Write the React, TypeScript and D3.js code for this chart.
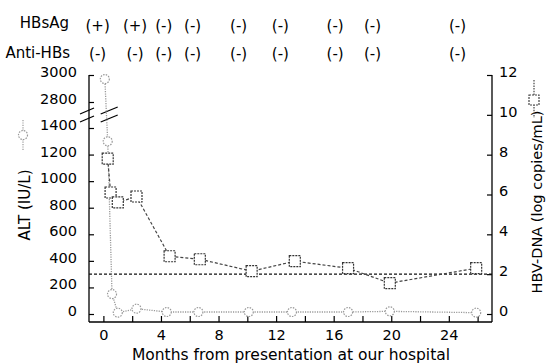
import React, { useEffect, useRef } from "react";
import * as d3 from "d3";

// ALT (IU/L), dotted grey line with round markers
const altMonths = [0.1, 0.3, 0.6, 1.0, 2.3, 4.4, 6.6, 10.1, 13.1, 17.0, 19.9, 25.9];
const altValues = [2970, 1300, 150, 10, 40, 15, 15, 15, 15, 15, 20, 10];

// HBV-DNA (log copies/mL), dashed line with square markers
const dnaMonths = [0.3, 0.5, 1.0, 2.3, 4.6, 6.7, 10.3, 13.3, 17.0, 19.9, 25.9];
const dnaValues = [7.8, 6.1, 5.6, 5.9, 2.9, 2.75, 2.15, 2.65, 2.3, 1.55, 2.3];
const dnaLimit = 2;

// serology rows above the plot
const seroMonths = [-0.4, 2.2, 4.2, 6.2, 9.4, 12.3, 16.1, 18.7, 24.6];
const hbsAg = ["(+)", "(+)", "(-)", "(-)", "(-)", "(-)", "(-)", "(-)", "(-)"];
const antiHbs = ["(-)", "(-)", "(-)", "(-)", "(-)", "(-)", "(-)", "(-)", "(-)"];

const altTicks = [0, 200, 400, 600, 800, 1000, 1200, 1400, 2800, 3000];
const dnaTicks = [0, 2, 4, 6, 8, 10, 12];
const monthTicks = [0, 2, 4, 6, 8, 10, 12, 14, 16, 18, 20, 22, 24, 26];
const monthLabels = [0, 4, 8, 12, 16, 20, 24];

const FONT = "DejaVu Sans, Verdana, sans-serif";

const App: React.FC = () => {
  const svgRef = useRef<SVGSVGElement | null>(null);

  useEffect(() => {
    const svg = d3.select(svgRef.current);
    svg.selectAll("*").remove();

    const w = 546;
    const h = 364;
    const left = 89;
    const right = 492;
    const axisY = 322;
    const top = 75;

    svg.attr("width", w).attr("height", h).style("background", "#fff")
      .style("font-family", FONT);

    const x = d3.scaleLinear().domain([-1, 27]).range([left, right]);
    // broken axis: 1400 -> 2800 squeezed
    const yL = d3.scaleLinear().domain([0, 1400, 2800, 3000]).range([314, 128, 102, top]);
    const yR = d3.scaleLinear().domain([0, 12]).range([314, top]);

    // axes
    const gL = svg.append("g").attr("transform", `translate(${left},0)`)
      .call(d3.axisLeft(yL).tickValues(altTicks).tickSize(-5).tickPadding(12).tickFormat(d3.format("d")));
    const gR = svg.append("g").attr("transform", `translate(${right},0)`)
      .call(d3.axisRight(yR).tickValues(dnaTicks).tickSize(-5).tickPadding(7));
    const gB = svg.append("g").attr("transform", `translate(0,${axisY})`)
      .call(d3.axisBottom(x).tickValues(monthTicks).tickSize(-6).tickPadding(8)
        .tickFormat(d => (monthLabels.includes(+d) ? String(d) : "")));

    [gL, gR, gB].forEach(g => {
      g.select(".domain").remove();
      g.selectAll("line").attr("stroke", "#000").attr("stroke-width", 1.2);
      g.selectAll("text").style("font-size", "14.5px").style("font-family", FONT).attr("fill", "#000");
    });
    gL.selectAll("text").attr("dy", "0.1em");
    gR.selectAll("text").attr("dy", "0.1em");

    svg.append("line").attr("x1", left).attr("x2", left).attr("y1", top).attr("y2", axisY)
      .attr("stroke", "#000").attr("stroke-width", 1.3);
    svg.append("line").attr("x1", right).attr("x2", right).attr("y1", top).attr("y2", axisY)
      .attr("stroke", "#000").attr("stroke-width", 1.3);
    svg.append("line").attr("x1", left).attr("x2", right).attr("y1", axisY).attr("y2", axisY)
      .attr("stroke", "#000").attr("stroke-width", 1.3);

    // axis break marks
    const breakY = (yL(1400) + yL(2800)) / 2;
    [-4, 4].forEach(off => {
      svg.append("line").attr("x1", left - 9).attr("x2", left + 5)
        .attr("y1", breakY + off + 3).attr("y2", breakY + off - 3)
        .attr("stroke", "#000").attr("stroke-width", 1.3);
      svg.append("line").attr("x1", x(0.3) - 7).attr("x2", x(0.3) + 10)
        .attr("y1", breakY + off + 3).attr("y2", breakY + off - 4)
        .attr("stroke", "#000").attr("stroke-width", 1.3);
    });

    // detection limit line
    svg.append("line").attr("x1", left).attr("x2", right)
      .attr("y1", yR(dnaLimit)).attr("y2", yR(dnaLimit))
      .attr("stroke", "#111").attr("stroke-width", 1.2).attr("stroke-dasharray", "3,2");

    // ALT series
    const altData = altMonths.map((m, i) => ({ m, v: altValues[i] }));
    svg.append("path").datum(altData)
      .attr("fill", "none").attr("stroke", "#999").attr("stroke-width", 1.3)
      .attr("stroke-dasharray", "1.2,1.2")
      .attr("d", d3.line<{ m: number; v: number }>().x(d => x(d.m)).y(d => yL(d.v)));
    svg.selectAll(".alt-pt").data(altData).enter().append("circle")
      .attr("cx", d => x(d.m)).attr("cy", d => yL(d.v)).attr("r", 4.5)
      .attr("fill", "#fff").attr("stroke", "#999").attr("stroke-width", 1.2)
      .attr("stroke-dasharray", "1.5,1.2");

    // HBV-DNA series
    const dnaData = dnaMonths.map((m, i) => ({ m, v: dnaValues[i] }));
    svg.append("path").datum(dnaData)
      .attr("fill", "none").attr("stroke", "#444").attr("stroke-width", 1.2)
      .attr("stroke-dasharray", "3,2")
      .attr("d", d3.line<{ m: number; v: number }>().x(d => x(d.m)).y(d => yR(d.v)));
    svg.selectAll(".dna-pt").data(dnaData).enter().append("rect")
      .attr("x", d => x(d.m) - 5.5).attr("y", d => yR(d.v) - 5.5)
      .attr("width", 11).attr("height", 11)
      .attr("fill", "#fff").attr("stroke", "#333").attr("stroke-width", 1.2)
      .attr("stroke-dasharray", "2,1");

    // serology rows
    svg.append("text").attr("x", 69).attr("y", 28).attr("text-anchor", "end")
      .style("font-size", "15px").text("HBsAg");
    svg.append("text").attr("x", 70).attr("y", 58).attr("text-anchor", "end")
      .style("font-size", "15px").text("Anti-HBs");
    seroMonths.forEach((m, i) => {
      svg.append("text").attr("x", x(m)).attr("y", 31).attr("text-anchor", "middle")
        .style("font-size", "15px").text(hbsAg[i]);
      svg.append("text").attr("x", x(m)).attr("y", 59).attr("text-anchor", "middle")
        .style("font-size", "15px").text(antiHbs[i]);
    });

    // axis titles
    svg.append("text").attr("x", 291).attr("y", 359.5).attr("text-anchor", "middle")
      .style("font-size", "15.5px").text("Months from presentation at our hospital");
    svg.append("text").attr("transform", `translate(30,205) rotate(-90)`).attr("text-anchor", "middle")
      .style("font-size", "15px").text("ALT (IU/L)");
    svg.append("text").attr("transform", `translate(542,202) rotate(-90)`).attr("text-anchor", "middle")
      .style("font-size", "14.5px").text("HBV-DNA (log copies/mL)");

    // legend symbols next to the titles
    svg.append("line").attr("x1", 23).attr("x2", 23).attr("y1", 120).attr("y2", 150)
      .attr("stroke", "#999").attr("stroke-width", 1.2).attr("stroke-dasharray", "1.2,1.2");
    svg.append("circle").attr("cx", 23).attr("cy", 135).attr("r", 4.5)
      .attr("fill", "#fff").attr("stroke", "#999").attr("stroke-width", 1.2).attr("stroke-dasharray", "1.5,1.2");
    svg.append("line").attr("x1", 534).attr("x2", 534).attr("y1", 80).attr("y2", 118)
      .attr("stroke", "#444").attr("stroke-width", 1.2).attr("stroke-dasharray", "1.5,1.2");
    svg.append("rect").attr("x", 534 - 5).attr("y", 100 - 5).attr("width", 10).attr("height", 10)
      .attr("fill", "#fff").attr("stroke", "#444").attr("stroke-width", 1.2).attr("stroke-dasharray", "2,1");
  }, []);

  return (
    <div style={{ position: "absolute", left: 0, top: 0 }}>
      <svg ref={svgRef}></svg>
    </div>
  );
};

export default App;
